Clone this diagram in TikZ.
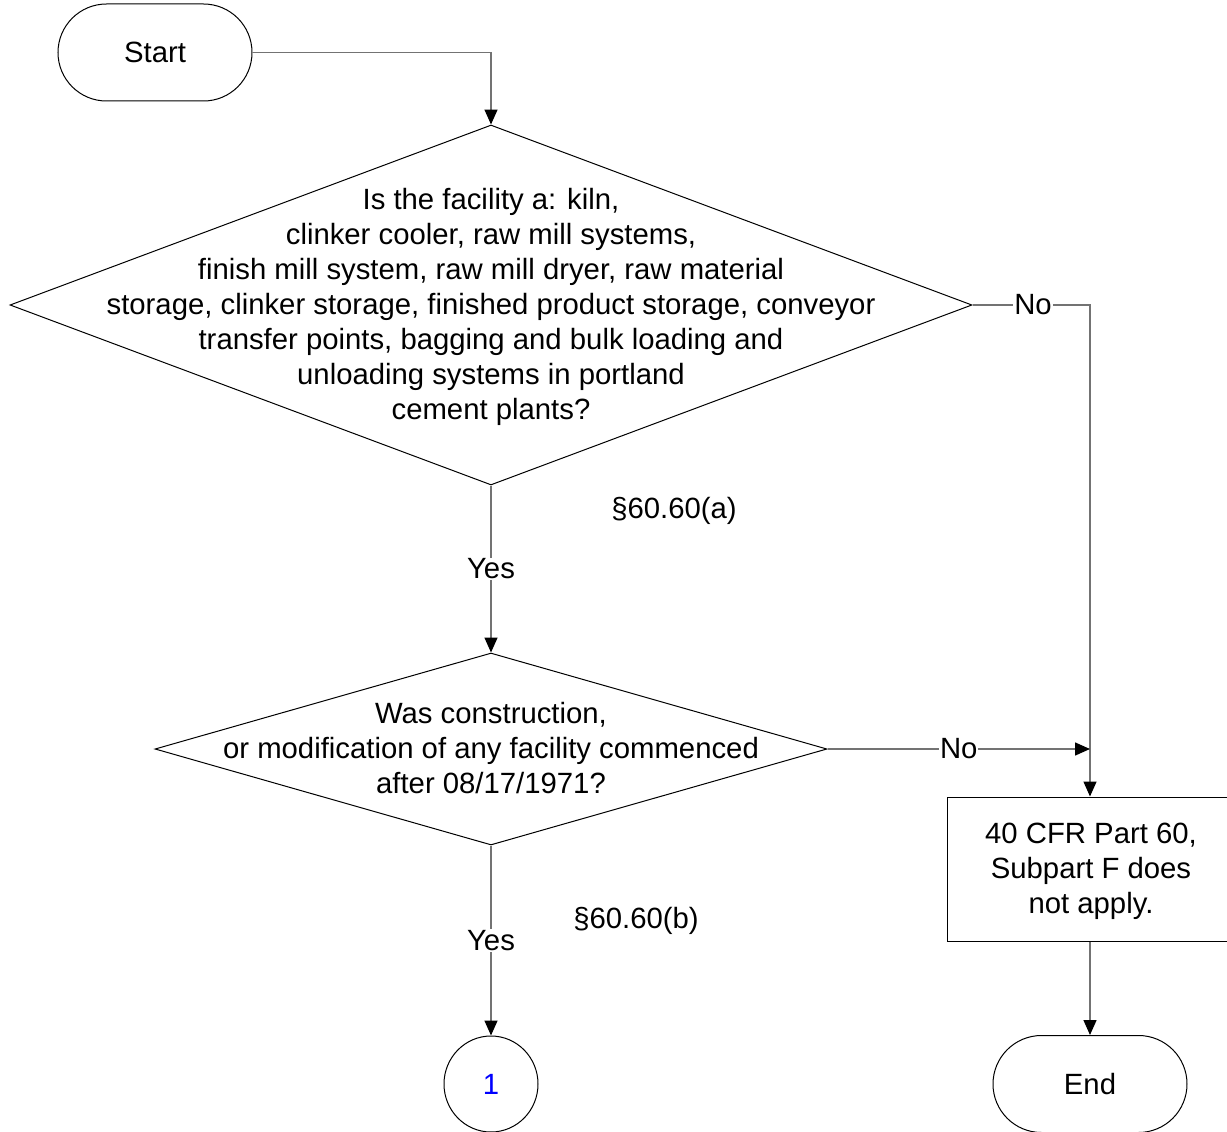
\documentclass[tikz,border=0pt]{standalone}
\usepackage{fontspec}
\setmainfont{Liberation Sans}
\usetikzlibrary{shapes.geometric,shapes.misc,arrows.meta}
\begin{document}
\begin{tikzpicture}[x=1pt,y=-1pt,
  font=\fontsize{29.3}{35}\selectfont,
  shapeline/.style={draw=black,line width=1pt},
  terminal/.style={shapeline,rounded rectangle,minimum width=194pt,minimum height=97pt,inner sep=0pt},
  decision/.style={shapeline,diamond,inner sep=0pt},
  conn/.style={draw={rgb,255:red,115;green,115;blue,115},line width=1.5pt},
  arr/.style={conn,-{Triangle[length=15pt,width=13pt,color=black]}},
  lbl/.style={fill=white,inner sep=1pt},
  txt/.style={align=center,inner sep=0pt}]
\useasboundingbox (0,0) rectangle (1227,1132);

\node[terminal] (start) at (155,52.5) {Start};
\node[decision,minimum width=962pt,minimum height=360pt] (d1) at (491,305) {};
\node[txt] (d1t) at (491,307) {Is the facility a: kiln,\\clinker cooler, raw mill systems,\\finish mill system, raw mill dryer, raw material\\storage, clinker storage, finished product storage, conveyor\\transfer points, bagging and bulk loading and\\unloading systems in portland\\cement plants?};
\node[decision,minimum width=672pt,minimum height=192pt] (d2) at (491,749) {};
\node[txt] (d2t) at (491,748) {Was construction,\\or modification of any facility commenced\\after 08/17/1971?};
\node[shapeline,rectangle,minimum width=286pt,minimum height=144pt,inner sep=0pt] (box) at (1090,869) {};
\node[txt] (boxt) at (1091,871) {40 CFR Part 60,\\Subpart F does\\not apply.};
\node[shapeline,ellipse,minimum width=94pt,minimum height=96pt,inner sep=0pt,text=blue] (c1) at (491,1084) {1};
\node[terminal] (end) at (1090,1084) {End};
\coordinate (j) at (1090,749);

\draw[arr] (start.east) -| (d1.north);
\draw[arr] (d1.east) -| (box.north);
\node[lbl] (no1) at (1033,305) {No};
\draw[arr] (d1.south) -- node[lbl] (yes1) {Yes} (d2.north);
\draw[arr] (d2.east) -- node[lbl,pos=0.5] (no2) {No} (j);
\draw[arr] (d2.south) -- node[lbl] (yes2) {Yes} (c1.north);
\draw[arr] (box.south) -- (end.north);

\node (sa) at (674,511) {§60.60(a)};
\node (sb) at (636,921) {§60.60(b)};
\end{tikzpicture}
\end{document}
